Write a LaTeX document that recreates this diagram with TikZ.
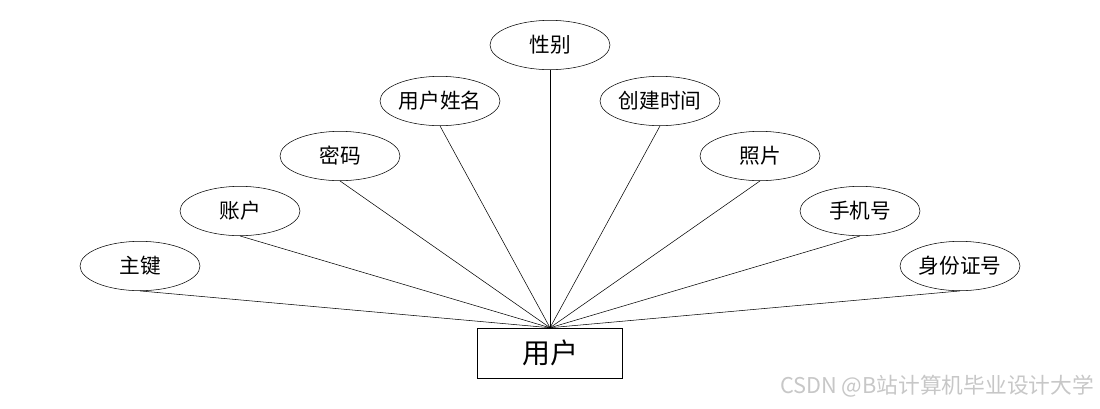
\documentclass[tikz,border=0pt]{standalone}
\usepackage{fontspec}
\setmainfont{Noto Sans CJK SC}
\usetikzlibrary{shapes.geometric}

\begin{document}
\begin{tikzpicture}[x=0.75pt,y=0.75pt,yscale=-1,xscale=1,
  attr/.style={draw,ellipse,minimum width=90pt,minimum height=37pt,inner sep=0pt,font=\fontsize{15.5}{18}\selectfont},
  entity/.style={draw,rectangle,minimum width=108.5pt,minimum height=37.5pt,inner sep=0pt,font=\fontsize{21}{24}\selectfont}]
\useasboundingbox (0,0) rectangle (1100,408);

%Entity
\node (user) at (550,353) [entity] {用户};

%Attributes
\node (key) at (140,266) [attr] {主键};
\node (account) at (240,211) [attr] {账户};
\node (pwd) at (340,156) [attr] {密码};
\node (uname) at (440,101) [attr] {用户姓名};
\node (gender) at (550,45) [attr] {性别};
\node (ctime) at (660,101) [attr] {创建时间};
\node (photo) at (760,156) [attr] {照片};
\node (phone) at (860,211) [attr] {手机号};
\node (idno) at (960,266) [attr] {身份证号};

%Links
\foreach \a in {key,account,pwd,uname,gender,ctime,photo,phone,idno}
  \draw (\a.south) -- (user.north);

% Text Node
\node (mark) at (937,386) [text=black!22,font=\fontsize{16.3}{19}\selectfont] {CSDN @B站计算机毕业设计大学};

\end{tikzpicture}
\end{document}
